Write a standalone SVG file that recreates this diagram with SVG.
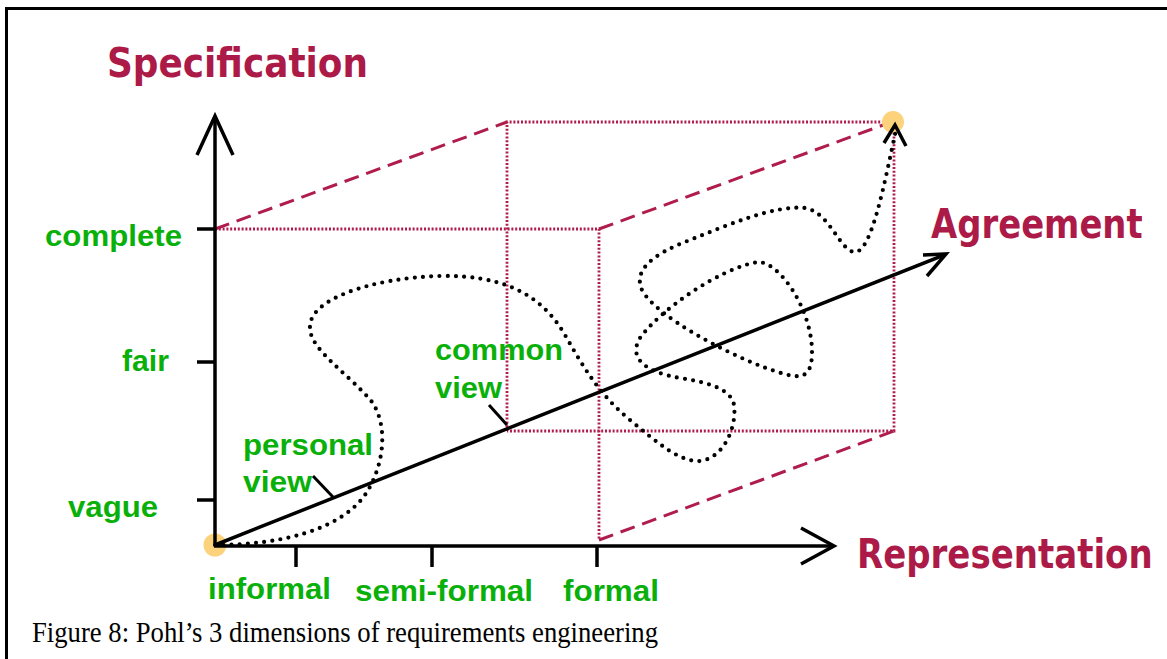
<svg xmlns="http://www.w3.org/2000/svg" width="1167" height="659" viewBox="0 0 1167 659">
<style>
.frame{stroke:#000;stroke-width:3;fill:none}
.axis{stroke:#000;stroke-width:3.5;fill:none;stroke-linecap:butt;stroke-linejoin:miter}
.tick{stroke:#000;stroke-width:3.5;fill:none}
.dot{stroke:#B01C4C;stroke-width:2.8;fill:none;stroke-dasharray:2 1.8}
.dash{stroke:#B01C4C;stroke-width:3;fill:none;stroke-dasharray:15 8}
.path{stroke:#000;stroke-width:4.2;fill:none;stroke-linecap:round;stroke-dasharray:0 8.2}
.dim{font-family:"DejaVu Sans",sans-serif;font-weight:bold;font-size:41px;fill:#AC1A48}
.lbl{font-family:"Liberation Sans",Arial,sans-serif;font-weight:bold;font-size:30px;fill:#0AB00A}
.cap{font-family:"Liberation Serif","Times New Roman",serif;font-size:30px;fill:#000}
.ptr{stroke:#000;stroke-width:3;fill:none}
.pt{fill:#FDD27C}
</style>
<rect width="1167" height="659" fill="#fff"/>
<g id="frame">
<line class="frame" x1="6.5" y1="8.5" x2="1167" y2="8.5"/>
<line class="frame" x1="6.5" y1="7" x2="6.5" y2="659"/>
</g>
<g id="box">
<polyline class="dot" points="215,229 599,229 599,539"/>
<polyline class="dot" points="507,431 507,122 894,122 894,431 507,431"/>
<line class="dash" x1="215" y1="229" x2="507" y2="122"/>
<line class="dash" x1="599" y1="229" x2="886" y2="124"/>
<line class="dash" x1="599" y1="540" x2="894" y2="431"/>
</g>
<g id="points">
<circle class="pt" cx="215" cy="545" r="11.5"/>
<circle class="pt" cx="893" cy="122" r="11"/>
</g>
<g id="connectors">
<line class="axis" x1="215" y1="546" x2="215" y2="117"/>
<polyline class="axis" points="197,155 215,116 233,155"/>
<line class="axis" x1="214" y1="546" x2="832" y2="546"/>
<polyline class="axis" points="801,528 834,546 801,564"/>
<line class="axis" x1="215" y1="545" x2="944" y2="255"/>
<polyline class="axis" points="923,255 946,254 927,276"/>
<line class="tick" x1="197" y1="229" x2="215" y2="229"/>
<line class="tick" x1="197" y1="362" x2="215" y2="362"/>
<line class="tick" x1="197" y1="500" x2="215" y2="500"/>
<line class="tick" x1="296" y1="546" x2="296" y2="567"/>
<line class="tick" x1="432" y1="546" x2="432" y2="567"/>
<line class="tick" x1="597" y1="546" x2="597" y2="567"/>
<path class="path" d="M215,545 C280,545 340,530 365,495 C385,465 388,425 372,402 C350,375 310,350 310,328 C308,300 370,278 440,276 C500,275 540,292 565,335 C585,370 600,395 630,420 C660,445 680,462 700,461 C725,458 737,425 734,405 C731,388 705,382 680,378 C645,372 628,358 640,338 C660,310 720,268 758,262 C780,262 812,310 812,352 C812,385 795,378 763,367 C720,350 660,318 643,292 C632,272 650,255 690,240 C730,224 775,205 805,208 C830,212 840,252 855,252 C872,252 885,180 896,130"/>
<polyline class="axis" points="884,143 895,125 906,146"/>
<line class="ptr" x1="313" y1="476" x2="333" y2="497"/>
<line class="ptr" x1="489" y1="405" x2="507" y2="425"/>
</g>
<g id="dimension-labels">
<text class="dim" transform="translate(107,77) scale(0.87,1)" textLength="300" lengthAdjust="spacingAndGlyphs">Specification</text>
<text class="dim" transform="translate(931,238) scale(0.84,1)" textLength="252" lengthAdjust="spacingAndGlyphs">Agreement</text>
<text class="dim" transform="translate(857,568) scale(0.84,1)" textLength="352" lengthAdjust="spacingAndGlyphs">Representation</text>
</g>
<g id="scale-labels">
<text class="lbl" x="45" y="246" textLength="137" lengthAdjust="spacingAndGlyphs">complete</text>
<text class="lbl" x="122" y="371" textLength="47" lengthAdjust="spacingAndGlyphs">fair</text>
<text class="lbl" x="68" y="517" textLength="90" lengthAdjust="spacingAndGlyphs">vague</text>
<text class="lbl" x="208" y="599" textLength="123" lengthAdjust="spacingAndGlyphs">informal</text>
<text class="lbl" x="355" y="601" textLength="178" lengthAdjust="spacingAndGlyphs">semi-formal</text>
<text class="lbl" x="563" y="601" textLength="96" lengthAdjust="spacingAndGlyphs">formal</text>
</g>
<g id="view-labels">
<text class="lbl" x="243" y="455" textLength="130" lengthAdjust="spacingAndGlyphs">personal</text>
<text class="lbl" x="243" y="492" textLength="69" lengthAdjust="spacingAndGlyphs">view</text>
<text class="lbl" x="435" y="360" textLength="128" lengthAdjust="spacingAndGlyphs">common</text>
<text class="lbl" x="435" y="398" textLength="67" lengthAdjust="spacingAndGlyphs">view</text>
</g>
<g id="caption">
<text class="cap" x="32" y="642" textLength="626" lengthAdjust="spacingAndGlyphs">Figure 8: Pohl’s 3 dimensions of requirements engineering</text>
</g>
</svg>
